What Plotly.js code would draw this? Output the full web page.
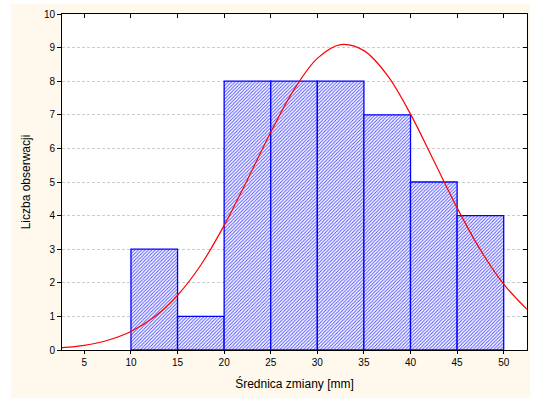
<!DOCTYPE html>
<html>
<head>
<meta charset="utf-8">
<script src="https://cdn.plot.ly/plotly-3.0.1.min.js"></script>
<style>
  html, body { margin: 0; padding: 0; background: #ffffff; }
  #chart { position: absolute; left: 11px; top: 4px; width: 519px; height: 394px; }
</style>
</head>
<body>
<div id="chart"></div>
<script>
// Histogram bins (lower edge .. upper edge) and counts
const binCenters = [12.5, 17.5, 22.5, 27.5, 32.5, 37.5, 42.5, 47.5];
const binCounts  = [3, 1, 8, 8, 8, 7, 5, 4];
const binWidth   = 5;

// Fitted normal curve, expected counts per bin
const curveX = [2.6, 5, 7.5, 10, 12.5, 15, 17.5, 20, 22.5, 25, 27.5, 30, 32.5, 35, 37.5, 40, 42.5, 45, 47.5, 50, 52.5];
const curveY = [0.07, 0.14, 0.29, 0.55, 0.98, 1.63, 2.53, 3.71, 5.07, 6.48, 7.75, 8.68, 9.09, 8.91, 8.18, 7.02, 5.63, 4.23, 2.98, 1.96, 1.21];

// Axis ticks
const xTicks = [5, 10, 15, 20, 25, 30, 35, 40, 45, 50];
const yTicks = [0, 1, 2, 3, 4, 5, 6, 7, 8, 9, 10];

const xRange = [2.6, 52.5];
const yRange = [0, 10];

const font = { family: 'Liberation Sans, Arial, sans-serif', size: 10, color: '#000000' };

const traces = [
  {
    type: 'bar',
    x: binCenters,
    y: binCounts,
    width: binWidth,
    marker: {
      color: '#ffffff',
      line: { color: '#0000ff', width: 1.3 },
      pattern: { shape: '/', fgcolor: '#4a4aff', bgcolor: '#ffffff', size: 2.4, solidity: 0.38 }
    },
    hoverinfo: 'skip',
    showlegend: false
  },
  {
    type: 'scatter',
    mode: 'lines',
    x: curveX,
    y: curveY,
    line: { color: '#ff0000', width: 1.2, shape: 'spline', smoothing: 1 },
    hoverinfo: 'skip',
    showlegend: false,
    cliponaxis: true
  },
  {
    // carrier for the mirrored top/right axes
    type: 'scatter',
    mode: 'markers',
    x: [null],
    y: [null],
    xaxis: 'x2',
    yaxis: 'y2',
    hoverinfo: 'skip',
    showlegend: false
  }
];

const layout = {
  width: 519,
  height: 394,
  margin: { l: 51, r: 3, t: 10, b: 48 },
  paper_bgcolor: '#fef9ec',
  plot_bgcolor: '#ffffff',
  font: font,
  bargap: 0,
  xaxis: {
    range: xRange,
    tickvals: xTicks,
    ticktext: xTicks.map(String),
    ticks: 'outside',
    ticklen: 3,
    tickcolor: '#000000',
    showline: true,
    linecolor: '#000000',
    linewidth: 1,
    showgrid: false,
    zeroline: false,
    tickfont: font,
    title: { text: 'Średnica zmiany [mm]', font: { family: font.family, size: 12, color: '#000000' }, standoff: 12 }
  },
  yaxis: {
    range: yRange,
    tickvals: yTicks,
    ticktext: yTicks.map(String),
    ticks: 'outside',
    ticklen: 4,
    tickcolor: '#000000',
    showline: true,
    linecolor: '#000000',
    linewidth: 1,
    showgrid: true,
    gridcolor: '#cccccc',
    griddash: '3px,2px',
    gridwidth: 1,
    zeroline: false,
    tickfont: font,
    title: { text: 'Liczba obserwacji', font: { family: font.family, size: 12, color: '#000000' }, standoff: 10 }
  },
  xaxis2: {
    overlaying: 'x',
    side: 'top',
    anchor: 'y2',
    range: xRange,
    tickvals: xTicks,
    ticks: 'inside',
    ticklen: 4,
    tickcolor: '#000000',
    showticklabels: false,
    showline: true,
    linecolor: '#000000',
    linewidth: 1,
    showgrid: false,
    zeroline: false
  },
  yaxis2: {
    overlaying: 'y',
    side: 'right',
    anchor: 'x2',
    range: yRange,
    tickvals: yTicks,
    ticks: 'inside',
    ticklen: 4,
    tickcolor: '#000000',
    showticklabels: false,
    showline: true,
    linecolor: '#000000',
    linewidth: 1,
    showgrid: false,
    zeroline: false
  }
};

Plotly.newPlot('chart', traces, layout, { displayModeBar: false, staticPlot: true });
</script>
</body>
</html>
